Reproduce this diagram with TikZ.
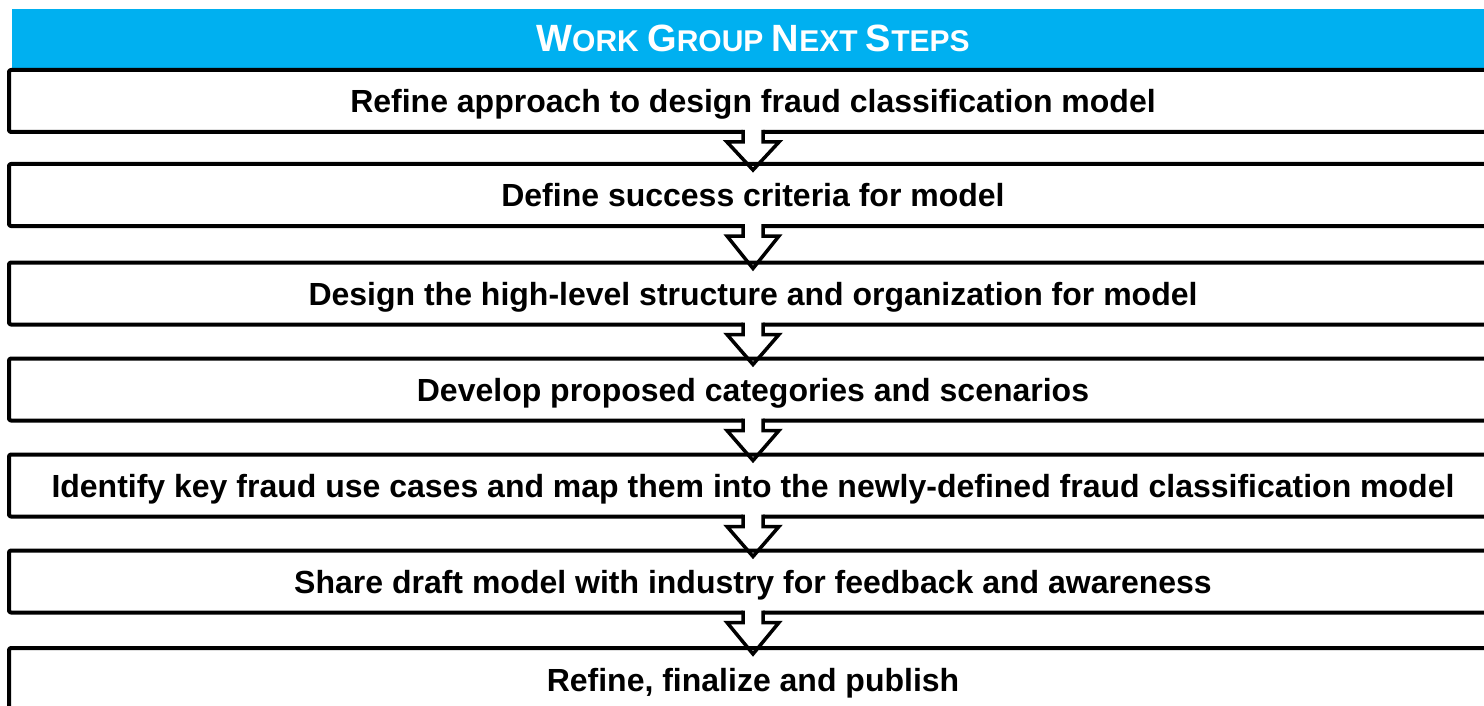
\documentclass[tikz,border=0pt]{standalone}
\usepackage{fontspec}
\setmainfont{Liberation Sans}
\usetikzlibrary{calc}
\definecolor{headblue}{HTML}{00B0F0}
\newcommand{\capL}[1]{{\fontsize{38}{42}\selectfont #1}}
\newcommand{\capS}[1]{{\fontsize{30}{34}\selectfont #1}}
\begin{document}
\begin{tikzpicture}[x=1pt,y=-1pt,
  stepbox/.style={draw=black, line width=4pt, fill=white, rounded corners=2pt,
    line join=round, outer sep=0pt, inner sep=0pt,
    minimum width=1488pt, minimum height=62pt, anchor=west,
    text height=26pt, text depth=2pt,
    font=\bfseries\fontsize{32}{36}\selectfont},
  header/.style={fill=headblue, outer sep=0pt, inner sep=0pt,
    minimum width=1482pt, minimum height=59pt, anchor=north west,
    text=white, font=\bfseries\fontsize{30}{34}\selectfont},
  arrowline/.style={draw=black, line width=3.5pt, line join=miter}]
\useasboundingbox (0,0) rectangle (1484,706);
\clip (0,0) rectangle (1484,706);
\fill[white] (0,0) rectangle (1484,706);

% title bar
\node[header] (head) at (12,9)
  {\capL{W}\capS{ORK} \capL{G}\capS{ROUP} \capL{N}\capS{EXT} \capL{S}\capS{TEPS}};

% steps
\node[stepbox] (b1) at (9,101)   {Refine approach to design fraud classification model};
\node[stepbox] (b2) at (9,195)   {Define success criteria for model};
\node[stepbox] (b3) at (9,293.5) {Design the high-level structure and organization for model};
\node[stepbox] (b4) at (9,389.5) {Develop proposed categories and scenarios};
\node[stepbox] (b5) at (9,485.5) {Identify key fraud use cases and map them into the newly-defined fraud classification model};
\node[stepbox] (b6) at (9,581.5) {Share draft model with industry for feedback and awareness};
\node[stepbox] (b7) at (9,679)   {Refine, finalize and publish};

% hollow down arrows joining consecutive steps
\foreach \u/\l in {b1/b2,b2/b3,b3/b4,b4/b5,b5/b6,b6/b7}{
  \fill[white] ($(\u.south)+(-10,-3)$) rectangle ($(\u.south)+(10,3)$);
  \draw[arrowline] ($(\u.south)+(-10,-2)$) -- ++(0,12) -- ++(-16,0)
    -- ($(\l.north)+(0,6)$) -- ($(\u.south)+(26,10)$) -- ++(-16,0) -- ++(0,-12);
}
\end{tikzpicture}
\end{document}
